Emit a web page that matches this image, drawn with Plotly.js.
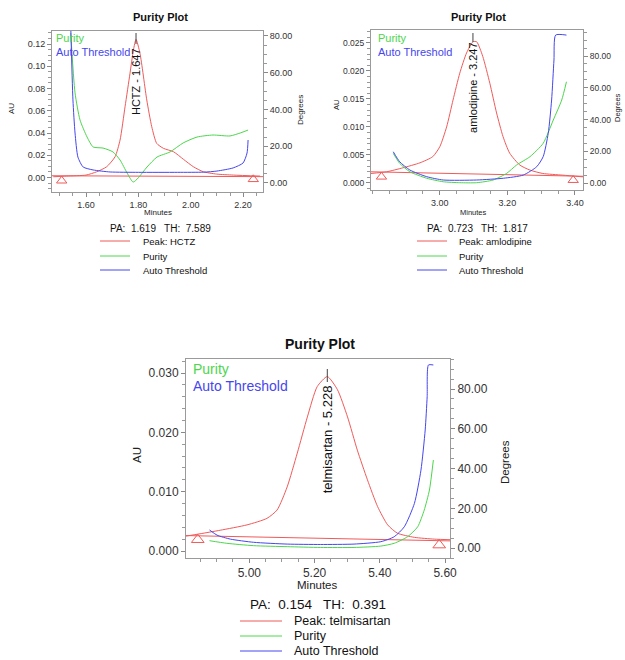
<!DOCTYPE html>
<html><head><meta charset="utf-8">
<script src="https://cdn.plot.ly/plotly-3.0.1.min.js"></script>
<style>html,body{margin:0;padding:0;background:#fff}#chart{width:625px;height:660px}</style>
</head><body><div id="chart"></div>
<script>
// ---------- Plot 1: HCTZ ----------
const peak1Name = "Peak: HCTZ";
const peak1Label = "HCTZ - 1.647";
const stats1 = "PA:  1.619   TH:  7.589";
const peak1X = [1.475, 1.526, 1.600, 1.641, 1.679, 1.711, 1.730, 1.749, 1.768, 1.781, 1.791, 1.806, 1.832, 1.851, 1.870, 1.896, 1.934, 1.972, 2.010, 2.048, 2.099, 2.163, 2.265];
const peak1Y = [0.0007, 0.0013, 0.0022, 0.0052, 0.0097, 0.0187, 0.0337, 0.0636, 0.0937, 0.1146, 0.1242, 0.1117, 0.0697, 0.0457, 0.0307, 0.0262, 0.0232, 0.0164, 0.0097, 0.0052, 0.0031, 0.0022, 0.0013];
const base1X = [1.47, 2.276];
const base1Y = [0.0016, 0.0008];
const tri1X = [1.507, 2.239];
const tri1Y = [-0.0029, -0.0016];
const purity1X = [1.5415, 1.558, 1.577, 1.604, 1.627, 1.665, 1.703, 1.730, 1.757, 1.780, 1.799, 1.833, 1.871, 1.921, 1.971, 2.024, 2.085, 2.150, 2.189, 2.219];
const purity1Y = [81.6, 49, 34.3, 25, 19.6, 19, 16.9, 12.5, 5.4, 0.5, 2.7, 8.7, 14.1, 16.9, 21.8, 25, 26.1, 25.6, 27.2, 28.8];
const thresh1X = [1.5415, 1.550, 1.558, 1.569, 1.589, 1.627, 1.692, 1.80, 1.95, 2.05, 2.10, 2.162, 2.200, 2.215, 2.219];
const thresh1Y = [86, 45.2, 27.2, 14.1, 8.7, 7.1, 6.0, 5.8, 5.8, 5.9, 6.5, 8.2, 10.9, 16.3, 23.4];
const x1Ticks = [1.6, 1.8, 2.0, 2.2];
const au1Ticks = [0, 0.02, 0.04, 0.06, 0.08, 0.10, 0.12];

// ---------- Plot 2: amlodipine ----------
const peak2Name = "Peak: amlodipine";
const peak2Label = "amlodipine - 3.247";
const stats2 = "PA:  0.723   TH:  1.817";
const peak2X = [2.796, 2.842, 2.890, 2.941, 2.979, 3.000, 3.020, 3.039, 3.059, 3.079, 3.098, 3.109, 3.127, 3.148, 3.168, 3.187, 3.207, 3.237, 3.267, 3.305, 3.364, 3.424];
const peak2Y = [0.0017, 0.0020, 0.0027, 0.0036, 0.0047, 0.0065, 0.0100, 0.0148, 0.0196, 0.0232, 0.0252, 0.0252, 0.0226, 0.0178, 0.0125, 0.0083, 0.0053, 0.0032, 0.0023, 0.0017, 0.0014, 0.0011];
const base2X = [2.796, 3.424];
const base2Y = [0.0020, 0.0012];
const tri2X = [2.827, 3.395];
const tri2Y = [0.0011, 0.0005];
const purity2X = [2.862, 2.881, 2.911, 2.961, 3.010, 3.059, 3.109, 3.158, 3.198, 3.227, 3.267, 3.306, 3.336, 3.361, 3.375];
const purity2Y = [18.7, 12.4, 7.1, 3.0, 0.8, 0.2, 0.2, 1.9, 6.1, 11.3, 16.6, 25, 39.7, 52.3, 63.8];
const thresh2X = [2.862, 2.881, 2.911, 2.961, 3.010, 3.109, 3.188, 3.247, 3.287, 3.306, 3.321, 3.331, 3.338, 3.343, 3.375];
const thresh2Y = [19.7, 13.4, 8.2, 4.0, 1.9, 1.9, 3.0, 5.0, 10.3, 16.6, 31.3, 52.3, 77.5, 93.2, 93.2];
const x2Ticks = [3.0, 3.2, 3.4];
const au2Ticks = [0, 0.005, 0.010, 0.015, 0.020, 0.025];

// ---------- Plot 3: telmisartan ----------
const peak3Name = "Peak: telmisartan";
const peak3Label = "telmisartan - 5.228";
const stats3 = "PA:  0.154   TH:  0.391";
const peak3X = [4.805, 4.849, 4.911, 4.993, 5.054, 5.085, 5.116, 5.147, 5.178, 5.208, 5.239, 5.270, 5.301, 5.331, 5.362, 5.393, 5.424, 5.454, 5.506, 5.567, 5.618];
const peak3Y = [0.0025, 0.0029, 0.0035, 0.0044, 0.0055, 0.0069, 0.0108, 0.0165, 0.0226, 0.0277, 0.0294, 0.0272, 0.0226, 0.0170, 0.0120, 0.0075, 0.0044, 0.0030, 0.0023, 0.0020, 0.0019];
const base3X = [4.805, 5.618];
const base3Y = [0.0026, 0.0017];
const tri3X = [4.842, 5.582];
const tri3Y = [0.0019, 0.0010];
const purity3X = [4.878, 4.931, 5.013, 5.116, 5.218, 5.321, 5.403, 5.444, 5.485, 5.516, 5.536, 5.552, 5.564];
const purity3Y = [3.7, 2.4, 1.2, 0.7, 0.3, 0.3, 1.0, 2.4, 5.7, 10.7, 19.1, 29.2, 44.3];
const thresh3X = [4.878, 4.901, 4.942, 5.013, 5.116, 5.218, 5.321, 5.403, 5.444, 5.475, 5.506, 5.526, 5.539, 5.545, 5.549, 5.564];
const thresh3Y = [9.1, 6.5, 4.5, 2.9, 2.0, 1.8, 2.0, 3.2, 5.7, 10.7, 22.5, 39.2, 59.4, 76.1, 92.1, 92.1];
const x3Ticks = [5.0, 5.2, 5.4, 5.6];
const au3Ticks = [0, 0.010, 0.020, 0.030];

const degTicks = [0, 20, 40, 60, 80];
const purityName = "Purity";
const threshName = "Auto Threshold";
const plotTitle = "Purity Plot";

// ---------- styling ----------
const W = 625, H = 660;
const FONT = "Liberation Sans, Arial, sans-serif";
const RED = "#f05a5a", GREEN = "#4cd64c", BLUE = "#4646ee";
const px = v => v / W, py = v => 1 - v / H;

const traces = [];
function addPlot(xa, ya, ya2, pX, pY, bX, bY, tX, tY, gX, gY, hX, hY, triSize) {
  const sp = {shape: 'spline', smoothing: 0.6};
  traces.push({x: pX, y: pY, xaxis: xa, yaxis: ya, mode: 'lines', line: Object.assign({color: RED, width: 1}, sp)});
  traces.push({x: bX, y: bY, xaxis: xa, yaxis: ya, mode: 'lines', line: {color: RED, width: 1}});
  traces.push({x: tX, y: tY, xaxis: xa, yaxis: ya, mode: 'markers', cliponaxis: false,
    marker: {symbol: 'triangle-up-open', size: triSize, color: RED, line: {color: RED, width: 1}}});
  traces.push({x: gX, y: gY, xaxis: xa, yaxis: ya2, mode: 'lines', line: Object.assign({color: GREEN, width: 1}, sp)});
  traces.push({x: hX, y: hY, xaxis: xa, yaxis: ya2, mode: 'lines', line: Object.assign({color: BLUE, width: 1}, sp)});
}
addPlot('x', 'y', 'y2', peak1X, peak1Y, base1X, base1Y, tri1X, tri1Y, purity1X, purity1Y, thresh1X, thresh1Y, 9);
addPlot('x2', 'y3', 'y4', peak2X, peak2Y, base2X, base2Y, tri2X, tri2Y, purity2X, purity2Y, thresh2X, thresh2Y, 9);
addPlot('x3', 'y5', 'y6', peak3X, peak3Y, base3X, base3Y, tri3X, tri3Y, purity3X, purity3Y, thresh3X, thresh3Y, 11);

function xAxis(dom, range, anchor, ticks, fs, minorDt) {
  return {domain: dom, range: range, anchor: anchor, tickmode: 'array', tickvals: ticks, tickformat: '.2f',
    ticks: 'outside', ticklen: 4, tickcolor: '#888', showline: true, mirror: true, linecolor: '#9a9a9a',
    showgrid: false, zeroline: false, tickfont: {family: FONT, size: fs, color: '#333'},
    minor: {tickmode: 'linear', tick0: 0, dtick: minorDt, ticks: 'outside', ticklen: 3, tickcolor: '#999', showgrid: false}};
}
function yAxis(dom, range, anchor, ticks, fmt, fs, minorDt, side, overlay) {
  const a = {domain: dom, range: range, anchor: anchor, side: side, tickmode: 'array', tickvals: ticks, tickformat: fmt,
    ticks: 'outside', ticklen: 4, tickcolor: '#888', showline: true, linecolor: '#9a9a9a',
    showgrid: false, zeroline: false, tickfont: {family: FONT, size: fs, color: '#333'},
    minor: {tickmode: 'linear', tick0: 0, dtick: minorDt, ticks: 'outside', ticklen: 3, tickcolor: '#999', showgrid: false}};
  if (overlay) a.overlaying = overlay;
  return a;
}

const d1x = [px(52), px(263)], d1y = [py(192), py(31)];
const d2x = [px(371), px(583)], d2y = [py(190), py(30)];
const d3x = [px(186), px(450)], d3y = [py(558), py(359)];

const annotations = [];
const shapes = [];
function txt(x, y, text, size, color, o) {
  annotations.push(Object.assign({xref: 'paper', yref: 'paper', x: px(x), y: py(y), text: text, showarrow: false,
    xanchor: 'center', yanchor: 'middle', font: {family: FONT, size: size, color: color}}, o || {}));
}
function apexX(xs, ys) { let m = 0; ys.forEach((v, i) => { if (v > ys[m]) m = i; }); return xs[m]; }

function decorate(cfg) {
  txt(cfg.titleX, cfg.titleY, '<b>' + plotTitle + '</b>', cfg.titleFs, '#111');
  txt(cfg.auX, cfg.auY, 'AU', cfg.axFs, '#222', {textangle: -90});
  txt(cfg.degX, cfg.degY, 'Degrees', cfg.axFs, '#222', {textangle: -90});
  txt(cfg.minX, cfg.minY, 'Minutes', cfg.axFs, '#222');
  txt(cfg.inX, cfg.inY1, purityName, cfg.inFs, GREEN, {xanchor: 'left'});
  txt(cfg.inX, cfg.inY2, threshName, cfg.inFs, BLUE, {xanchor: 'left'});
  const ax = apexX(cfg.pX, cfg.pY);
  annotations.push({xref: cfg.xa, yref: 'paper', x: ax, y: py(cfg.lblY), text: cfg.label, textangle: -90, showarrow: false,
    xanchor: 'center', yanchor: 'middle', font: {family: FONT, size: cfg.lblFs, color: '#111'}});
  shapes.push({type: 'line', xref: cfg.xa, yref: 'paper', x0: ax, x1: ax, y0: py(cfg.tickY0), y1: py(cfg.tickY1), line: {color: '#444', width: 1}});
  txt(cfg.statX, cfg.statY, cfg.stats, cfg.statFs, '#111');
  const names = [cfg.peakName, purityName, threshName], cols = [RED, GREEN, BLUE];
  cfg.rowY.forEach((yy, i) => {
    shapes.push({type: 'line', xref: 'paper', yref: 'paper', x0: px(cfg.lx0), x1: px(cfg.lx1), y0: py(yy), y1: py(yy), line: {color: cols[i], width: 1}});
    txt(cfg.tx, yy, names[i], cfg.rowFs, '#111', {xanchor: 'left'});
  });
}

decorate({titleX: 160, titleY: 17, titleFs: 11, auX: 12, auY: 108, degX: 301, degY: 110, minX: 158, minY: 212, axFs: 8,
  inX: 54, inY1: 38, inY2: 52, inFs: 11, xa: 'x', pX: peak1X, pY: peak1Y, label: peak1Label, lblY: 82, lblFs: 11, tickY0: 33, tickY1: 44,
  statX: 160, statY: 229, stats: stats1, statFs: 10, peakName: peak1Name, rowY: [241, 256, 270], lx0: 100, lx1: 130, tx: 141, rowFs: 9.5});
decorate({titleX: 478, titleY: 17, titleFs: 11, auX: 337, auY: 105, degX: 618, degY: 108, minX: 473, minY: 212, axFs: 7.5,
  inX: 376, inY1: 38, inY2: 52, inFs: 11, xa: 'x2', pX: peak2X, pY: peak2Y, label: peak2Label, lblY: 87, lblFs: 11, tickY0: 33, tickY1: 42,
  statX: 477, statY: 229, stats: stats2, statFs: 10, peakName: peak2Name, rowY: [241, 256, 270], lx0: 417, lx1: 447, tx: 457, rowFs: 9.5});
decorate({titleX: 320, titleY: 344, titleFs: 14, auX: 137, auY: 455, degX: 505, degY: 462, minX: 317, minY: 585, axFs: 11.5,
  inX: 191, inY1: 369, inY2: 386, inFs: 14, xa: 'x3', pX: peak3X, pY: peak3Y, label: peak3Label, lblY: 439, lblFs: 13, tickY0: 369, tickY1: 382,
  statX: 318, statY: 604, stats: stats3, statFs: 13.5, peakName: peak3Name, rowY: [621, 636, 651], lx0: 240, lx1: 282, tx: 292, rowFs: 12.5});

const layout = {
  width: W, height: H, margin: {l: 0, r: 0, t: 0, b: 0}, showlegend: false,
  paper_bgcolor: '#fff', plot_bgcolor: '#fff', font: {family: FONT},
  xaxis: xAxis(d1x, [1.47, 2.276], 'y', x1Ticks, 9, 0.05),
  yaxis: yAxis(d1y, [-0.013, 0.1317], 'x', au1Ticks, '.2f', 9, 0.005, 'left'),
  yaxis2: yAxis(d1y, [-4.9, 82.7], 'x', degTicks, '.2f', 9, 5, 'right', 'y'),
  xaxis2: xAxis(d2x, [2.796, 3.424], 'y3', x2Ticks, 9, 0.05),
  yaxis3: yAxis(d2y, [-0.00125, 0.0273], 'x2', au2Ticks, '.3f', 8.5, 0.001, 'left'),
  yaxis4: yAxis(d2y, [-4.4, 96.4], 'x2', degTicks, '.2f', 8.5, 5, 'right', 'y3'),
  xaxis3: xAxis(d3x, [4.806, 5.615], 'y5', x3Ticks, 12, 0.05),
  yaxis5: yAxis(d3y, [-0.00118, 0.03236], 'x3', au3Ticks, '.3f', 12, 0.002, 'left'),
  yaxis6: yAxis(d3y, [-5.0, 95.1], 'x3', degTicks, '.2f', 12, 5, 'right', 'y5'),
  annotations: annotations, shapes: shapes
};
Plotly.newPlot('chart', traces, layout, {staticPlot: true, displayModeBar: false});
</script></body></html>
